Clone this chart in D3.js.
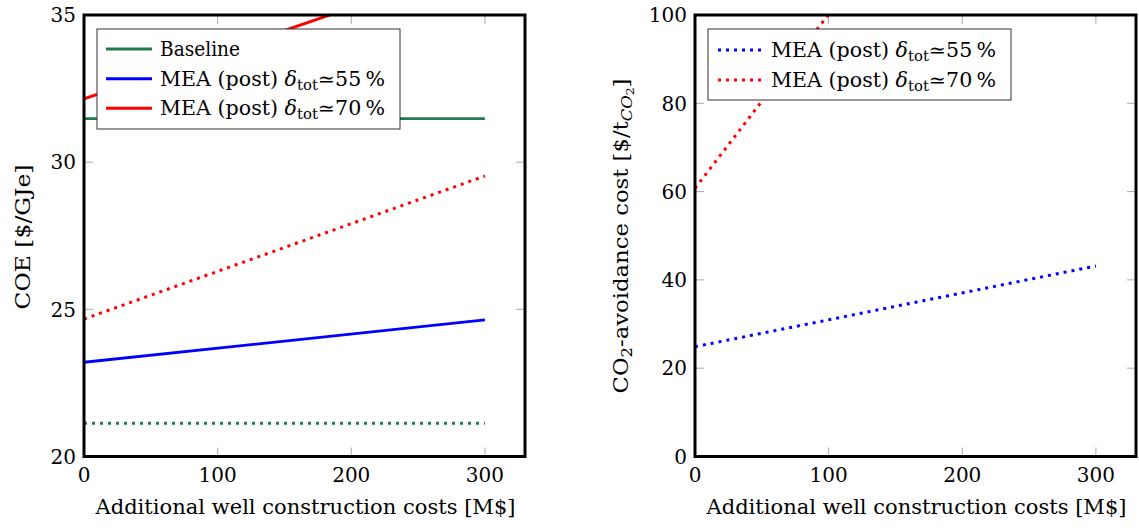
<!DOCTYPE html>
<html>
<head>
<meta charset="utf-8">
<script src="https://cdn.jsdelivr.net/npm/d3@7"></script>
<style>
  html, body { margin: 0; padding: 0; background: #fff; }
  svg { display: block; }
  text { font-family: "DejaVu Serif", serif; fill: #000; }
</style>
</head>
<body>
<svg id="chart" width="1139" height="528"></svg>
<script>
// ---------- data ----------
const xCosts = [0, 300];                 // additional well construction costs [M$]
const xTicks = [0, 100, 200, 300];
const coeTicks = [20, 25, 30, 35];
const avoidTicks = [0, 20, 40, 60, 80, 100];

// Left panel: COE [$/GJe]
const coeBaseline      = [31.48, 31.48];
const coeBaselineDot   = [21.13, 21.13];
const coeMea55         = [23.2, 24.64];
const coeMea70         = [32.15, 36.8];
const coeMea70Dot      = [24.67, 29.53];

// Right panel: CO2-avoidance cost [$/tCO2]
const avoidMea55       = [24.87, 43.15];
const avoidMea70       = [60.75, 179];

const xLabel = "Additional well construction costs [M$]";

// ---------- drawing ----------
const svg = d3.select("#chart");
const GREEN = "#237a4c", BLUE = "#0000ff", RED = "#ff0000";
const FS = 20;

function panel(opts) {
  const { left, right, top, bottom, xDomain, yDomain, yTicks, series, id } = opts;
  const x = d3.scaleLinear().domain(xDomain).range([left, right]);
  const y = d3.scaleLinear().domain(yDomain).range([bottom, top]);
  const g = svg.append("g");

  g.append("clipPath").attr("id", id).append("rect")
    .attr("x", left).attr("y", top).attr("width", right - left).attr("height", bottom - top);

  // ticks (inward, all four sides)
  const tl = 9;
  const tickG = g.append("g").attr("stroke", "#a8a8a8").attr("stroke-width", 1);
  xTicks.forEach(t => {
    tickG.append("line").attr("x1", x(t)).attr("x2", x(t)).attr("y1", bottom).attr("y2", bottom - tl);
    tickG.append("line").attr("x1", x(t)).attr("x2", x(t)).attr("y1", top).attr("y2", top + tl);
  });
  yTicks.forEach(t => {
    tickG.append("line").attr("y1", y(t)).attr("y2", y(t)).attr("x1", left).attr("x2", left + tl);
    tickG.append("line").attr("y1", y(t)).attr("y2", y(t)).attr("x1", right).attr("x2", right - tl);
  });

  // series lines
  const line = d3.line().x(d => x(d[0])).y(d => y(d[1]));
  const lg = g.append("g").attr("clip-path", `url(#${id})`);
  series.forEach(s => {
    const pts = xCosts.map((v, i) => [v, s.values[i]]);
    const p = lg.append("path").datum(pts).attr("d", line)
      .attr("fill", "none").attr("stroke", s.color);
    if (s.dotted) p.attr("stroke-width", 3).attr("stroke-dasharray", "3 5");
    else p.attr("stroke-width", 2.9);
  });

  // frame
  g.append("rect").attr("x", left).attr("y", top).attr("width", right - left).attr("height", bottom - top)
    .attr("fill", "none").attr("stroke", "#000").attr("stroke-width", 3);

  // tick labels
  xTicks.forEach(t => {
    g.append("text").attr("x", x(t)).attr("y", bottom + 25).attr("text-anchor", "middle")
      .attr("font-size", FS).text(t);
  });
  yTicks.forEach(t => {
    g.append("text").attr("x", left - 8).attr("y", y(t)).attr("dy", "0.36em").attr("text-anchor", "end")
      .attr("font-size", FS).text(t);
  });

  // x label
  g.append("text").attr("x", (left + right) / 2 + 1).attr("y", bottom + 57).attr("text-anchor", "middle")
    .attr("font-size", FS).attr("textLength", 420).attr("lengthAdjust", "spacingAndGlyphs").text(xLabel);

  return { x, y, g };
}

function legendLabel(textSel, pct) {
  textSel.append("tspan").text("MEA (post) ");
  textSel.append("tspan").attr("font-style", "italic").text("δ");
  textSel.append("tspan").attr("font-size", FS * 0.72).attr("dy", 4).text("tot");
  textSel.append("tspan").attr("dy", -4).text("≃" + pct + "\u2009%");
}

function legend(g, bx, by, bw, bh, items, rowY, lineX1, lineX2, textX) {
  g.append("rect").attr("x", bx).attr("y", by).attr("width", bw).attr("height", bh)
    .attr("fill", "#fff").attr("stroke", "#333").attr("stroke-width", 1);
  items.forEach((it, i) => {
    const yy = rowY[i];
    const l = g.append("line").attr("x1", lineX1).attr("x2", lineX2).attr("y1", yy).attr("y2", yy)
      .attr("stroke", it.color);
    if (it.dotted) l.attr("stroke-width", 3).attr("stroke-dasharray", "3 5");
    else l.attr("stroke-width", 2.9);
    const t = g.append("text").attr("x", textX).attr("y", yy + 7).attr("font-size", FS)
      .attr("lengthAdjust", "spacingAndGlyphs");
    if (it.pct) { legendLabel(t, it.pct); t.attr("textLength", 225); }
    else { t.text(it.label); t.attr("textLength", 80); }
  });
}

// Left panel
const L = panel({
  id: "clipL", left: 84, right: 525, top: 15, bottom: 456.5,
  xDomain: [0, 330], yDomain: [20, 35], yTicks: coeTicks,
  series: [
    { values: coeBaseline, color: GREEN },
    { values: coeBaselineDot, color: GREEN, dotted: true },
    { values: coeMea55, color: BLUE },
    { values: coeMea70, color: RED },
    { values: coeMea70Dot, color: RED, dotted: true }
  ]
});
legend(L.g, 97, 29, 303, 100,
  [{ label: "Baseline", color: GREEN }, { pct: "55", color: BLUE }, { pct: "70", color: RED }],
  [49, 78.7, 108.3], 106, 152, 160);
L.g.append("text").attr("transform", "translate(30,237) rotate(-90)").attr("text-anchor", "middle")
  .attr("font-size", FS).attr("textLength", 145).attr("lengthAdjust", "spacingAndGlyphs").text("COE [$/GJe]");

// Right panel
const R = panel({
  id: "clipR", left: 695, right: 1136, top: 15, bottom: 456.5,
  xDomain: [0, 330], yDomain: [0, 100], yTicks: avoidTicks,
  series: [
    { values: avoidMea55, color: BLUE, dotted: true },
    { values: avoidMea70, color: RED, dotted: true }
  ]
});
legend(R.g, 708, 29, 303, 71,
  [{ pct: "55", color: BLUE, dotted: true }, { pct: "70", color: RED, dotted: true }],
  [50, 80], 718, 763, 771);
const yl = R.g.append("text").attr("transform", "translate(628,236) rotate(-90)").attr("text-anchor", "middle")
  .attr("font-size", FS).attr("textLength", 315).attr("lengthAdjust", "spacingAndGlyphs");
yl.append("tspan").text("CO");
yl.append("tspan").attr("font-size", FS * 0.72).attr("dy", 4).text("2");
yl.append("tspan").attr("dy", -4).text("-avoidance cost [$/t");
yl.append("tspan").attr("font-size", FS * 0.72).attr("font-style", "italic").attr("dy", 4).text("CO");
yl.append("tspan").attr("font-size", FS * 0.55).attr("dy", 2).text("2");
yl.append("tspan").attr("dy", -6).text("]");
</script>
</body>
</html>
